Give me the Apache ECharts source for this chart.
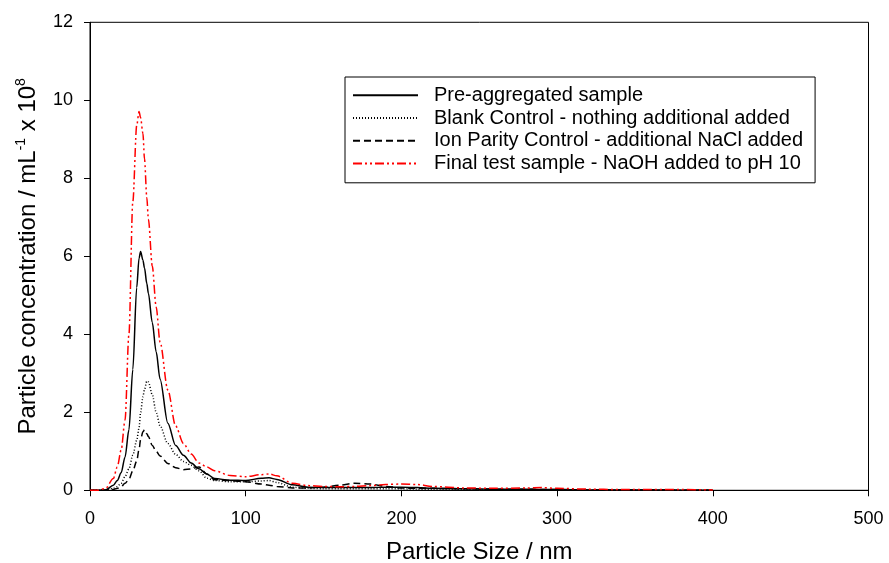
<!DOCTYPE html>
<html><head><meta charset="utf-8">
<script src="https://cdn.jsdelivr.net/npm/echarts@6/dist/echarts.min.js"></script>
<style>html,body{margin:0;padding:0;background:#fff}#c{width:889px;height:563px}</style>
</head><body><div id="c"></div>
<script>
// Particle size (nm) sampling grid
const sizes = [0,5,10,15,17.5,20,22.5,25,27.5,30,31.5,32.5,34,35,36.5,37.5,40,42.5,45,50,55,60,65,70,75,80,90,100,110,115,120,130,140,150,160,170,180,190,200,210,220,240,260,280,290,300,320,340,360,380,400];
// Particle concentration (mL^-1 x 10^8)
const preAggregated = [0,0,0.01,0.13,0.25,0.45,0.85,1.55,3.1,5.2,5.95,6.12,5.9,5.7,5.3,5.05,4.3,3.55,2.85,1.72,1.15,0.9,0.7,0.55,0.42,0.3,0.26,0.25,0.31,0.32,0.28,0.14,0.08,0.07,0.07,0.07,0.07,0.08,0.08,0.07,0.05,0.04,0.03,0.03,0.02,0.02,0.01,0.01,0.01,0,0];
const blankControl = [0,0,0,0.05,0.1,0.18,0.35,0.55,0.9,1.28,1.6,2.0,2.4,2.58,2.8,2.78,2.45,2.0,1.65,1.2,0.92,0.74,0.64,0.5,0.31,0.25,0.22,0.22,0.24,0.25,0.2,0.08,0.05,0.04,0.04,0.04,0.04,0.04,0.04,0.03,0.03,0.02,0.02,0.01,0.01,0.01,0.01,0,0,0,0];
const ionParityControl = [0,0,0,0.02,0.05,0.09,0.18,0.28,0.5,0.75,1.05,1.3,1.5,1.55,1.45,1.38,1.15,1.0,0.88,0.69,0.58,0.53,0.55,0.6,0.42,0.27,0.25,0.22,0.16,0.13,0.1,0.06,0.06,0.08,0.13,0.18,0.16,0.1,0.06,0.05,0.05,0.04,0.03,0.03,0.02,0.02,0.01,0.01,0.01,0,0];
const finalTest = [0,0,0.05,0.3,0.6,1.03,1.8,4.0,7.4,9.35,9.71,9.55,9.15,8.5,7.5,6.95,5.75,4.7,3.8,2.57,1.65,1.2,0.93,0.7,0.6,0.5,0.38,0.35,0.4,0.42,0.37,0.18,0.12,0.1,0.09,0.1,0.12,0.15,0.16,0.15,0.1,0.06,0.05,0.06,0.07,0.05,0.03,0.02,0.02,0.02,0.01];
const seriesNames = ['Pre-aggregated sample','Blank Control - nothing additional added','Ion Parity Control - additional NaCl added','Final test sample - NaOH added to pH 10'];
const xTicks = [0,100,200,300,400,500];
const yTicks = [0,2,4,6,8,10,12];

const FONT = 'Liberation Sans, Arial, sans-serif';
const pair = arr => sizes.map((s,i)=>[s,arr[i]]);
const styles = [
  {color:'#000', width:1.5, type:'solid'},
  {color:'#000', width:1.5, type:[1,2]},
  {color:'#000', width:1.5, type:[7,4]},
  {color:'#ff0000', width:1.5, type:[9,3,2,3,2,3]}
];
const dataSets = [preAggregated, blankControl, ionParityControl, finalTest];

const chart = echarts.init(document.getElementById('c'), null, {renderer:'canvas'});
chart.setOption({
  animation:false,
  backgroundColor:'#fff',
  grid:{left:90, right:20.5, top:22.3, bottom:72.7, show:true, borderColor:'#000', borderWidth:1,
        containLabel:false, outerBoundsMode:'none'},
  legend:{
    orient:'vertical', left:345, top:77,
    padding:[7,12,8,7], itemGap:0, itemWidth:65, itemHeight:14,
    borderColor:'#000', borderWidth:1,
    itemStyle:{opacity:0},
    textStyle:{fontFamily:FONT, fontSize:20, color:'#000', lineHeight:22.7, padding:[0,0,0,11]},
    data:seriesNames
  },
  xAxis:{
    type:'value', min:xTicks[0], max:xTicks[xTicks.length-1], interval:100,
    name:'Particle Size / nm', nameLocation:'middle', nameGap:50,
    nameTextStyle:{fontFamily:FONT, fontSize:24, color:'#000'},
    axisLine:{onZero:false, lineStyle:{color:'#000', width:1}},
    axisTick:{length:6, lineStyle:{color:'#000'}},
    axisLabel:{fontFamily:FONT, fontSize:18, color:'#000', margin:20},
    splitLine:{show:false}
  },
  yAxis:{
    type:'value', min:yTicks[0], max:yTicks[yTicks.length-1], interval:2,
    name:'Particle concentration / mL{sup|-1} x 10{sup|8}', nameLocation:'middle', nameGap:48,
    nameTextStyle:{fontFamily:FONT, fontSize:24, color:'#000', lineHeight:28,
      rich:{sup:{fontFamily:FONT, fontSize:14, color:'#000', verticalAlign:'top', lineHeight:14}}},
    axisLine:{show:true, lineStyle:{color:'#000', width:1}},
    axisTick:{show:true, length:6, lineStyle:{color:'#000'}},
    axisLabel:{fontFamily:FONT, fontSize:18, color:'#000', margin:17},
    splitLine:{show:false}
  },
  series: seriesNames.map((n,i)=>({
    name:n, type:'line', data:pair(dataSets[i]), symbol:'none', smooth:0.3, smoothMonotone:'x',
    lineStyle:{color:styles[i].color, width:styles[i].width, type:styles[i].type},
    itemStyle:{color:styles[i].color}, z: i===3?5:2
  }))
});
</script></body></html>
